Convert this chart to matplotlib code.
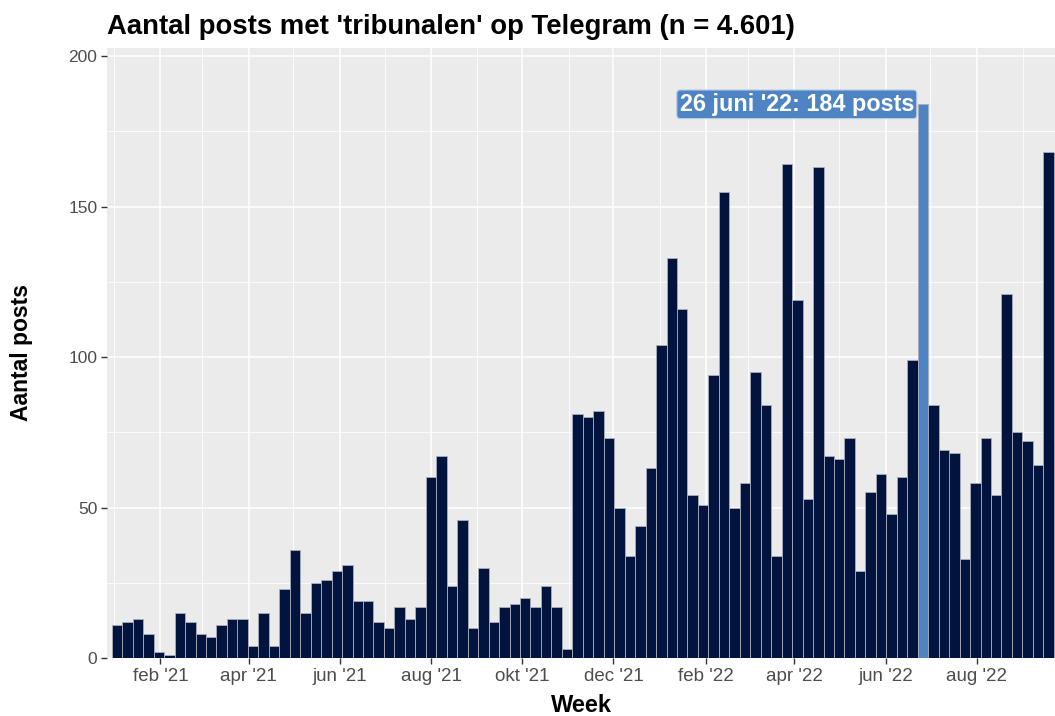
import matplotlib
matplotlib.use("Agg")
import matplotlib.pyplot as plt
import pandas as pd

# ---------------- data ----------------
week_start = "2021-01-03"
counts = [
    11, 12, 13, 8, 2, 1, 15, 12, 8, 7, 11, 13, 13, 4, 15, 4, 23, 36, 15, 25, 26, 29, 31,
    19, 19, 12, 10, 17, 13, 17, 60, 67, 24, 46, 10, 30, 12, 17, 18, 20, 17, 24, 17, 3,
    81, 80, 82, 73, 50, 34, 44, 63, 104, 133, 116, 54, 51, 94, 155, 50, 58, 95, 84, 34,
    164, 119, 53, 163, 67, 66, 73, 29, 55, 61, 48, 60, 99, 184, 84, 69, 68, 33, 58, 73,
    54, 121, 75, 72, 64, 168, 72,
]
highlight_week = "2022-06-26"
highlight_label = "26 juni '22"

tick_dates = ["2021-02-01", "2021-04-01", "2021-06-01", "2021-08-01", "2021-10-01",
              "2021-12-01", "2022-02-01", "2022-04-01", "2022-06-01", "2022-08-01"]
tick_labels = ["feb '21", "apr '21", "jun '21", "aug '21", "okt '21",
               "dec '21", "feb '22", "apr '22", "jun '22", "aug '22"]
minor_dates = ["2021-01-01", "2021-03-01", "2021-05-01", "2021-07-01", "2021-09-01",
               "2021-11-01", "2022-01-01", "2022-03-01", "2022-05-01", "2022-07-01",
               "2022-09-01"]
y_ticks = [0, 50, 100, 150, 200]
y_minor = [25, 75, 125, 175]

title = "Aantal posts met 'tribunalen' op Telegram (n = 4.601)"
xlabel = "Week"
ylabel = "Aantal posts"

# ---------------- style ----------------
plt.rcParams["font.family"] = ["Liberation Sans", "DejaVu Sans"]
bar_color = "#02133E"
hl_color = "#4F84C4"
panel_bg = "#EBEBEB"
tick_color = "#4D4D4D"

W, H = 1055, 716
fig = plt.figure(figsize=(W / 100, H / 100), dpi=100)
left_px, right_px, top_px, bottom_px = 107, 1055, 48, 658
ax = fig.add_axes([left_px / W, 1 - bottom_px / H,
                   (right_px - left_px) / W, (bottom_px - top_px) / H])
ax.set_facecolor(panel_bg)

weeks = pd.date_range(week_start, periods=len(counts), freq="7D")
hl = pd.Timestamp(highlight_week)
colors = [hl_color if w == hl else bar_color for w in weeks]

ax.bar(weeks, counts, width=7, color=colors, edgecolor="#A9AEBC",
       linewidth=0.6, zorder=3)

# axes limits
ax.set_xlim(pd.Timestamp("2020-12-27 07:00"), pd.Timestamp("2022-09-22 07:00"))
ax.set_ylim(0, 202.7)

# ticks
ax.set_xticks(pd.to_datetime(tick_dates))
ax.set_xticklabels(tick_labels)
ax.set_xticks(pd.to_datetime(minor_dates), minor=True)
ax.set_yticks(y_ticks)
ax.set_yticks(y_minor, minor=True)

ax.tick_params(axis="both", which="major", colors="#333333", length=4, width=1,
               labelcolor=tick_color, pad=3)
ax.tick_params(axis="x", which="major", labelsize=13.5)
ax.tick_params(axis="y", which="major", labelsize=12.5)
ax.tick_params(axis="both", which="minor", length=0)

ax.grid(which="major", color="white", linewidth=1.1, zorder=0)
ax.grid(which="minor", color="white", linewidth=0.55, zorder=0)
ax.set_axisbelow(True)
for s in ax.spines.values():
    s.set_visible(False)

# annotation for highlighted week
hl_count = counts[list(weeks).index(hl)]
ax.annotate(f"{highlight_label}: {hl_count} posts", xy=(hl, hl_count),
            xytext=(-9, 0), textcoords="offset pixels",
            ha="right", va="center", color="white", fontsize=16.8,
            fontweight="bold", zorder=6,
            bbox=dict(boxstyle="round,pad=0.12,rounding_size=0.15",
                      facecolor=hl_color, edgecolor="#B9CDE8", linewidth=0.8))

# labels
ax.set_xlabel(xlabel, fontsize=17, fontweight="bold", labelpad=7)
ax.set_ylabel(ylabel, fontsize=16.5, fontweight="bold", labelpad=25)
fig.text(107 / W, 1 - 34 / H, title, ha="left", va="baseline",
         fontsize=19.8, fontweight="bold")

fig.savefig("out.png", dpi=100)
